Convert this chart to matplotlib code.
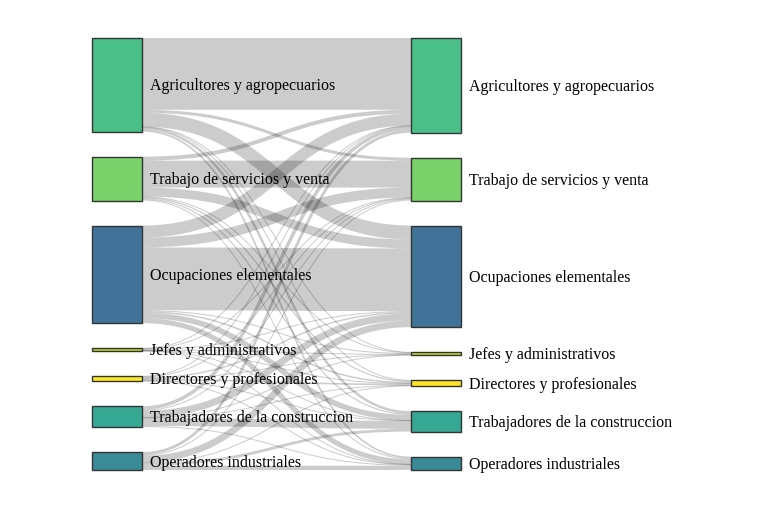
import matplotlib
matplotlib.use("Agg")
import matplotlib.pyplot as plt
from matplotlib.patches import Rectangle, PathPatch
from matplotlib.path import Path


# Data: occupation flows (left = origen, right = destino)

ocupaciones = [
    "Agricultores y agropecuarios",
    "Trabajo de servicios y venta",
    "Ocupaciones elementales",
    "Jefes y administrativos",
    "Directores y profesionales",
    "Trabajadores de la construccion",
    "Operadores industriales",
]

colores = ["#4ac088", "#7ad36a", "#417398", "#b5dc2e", "#fde725", "#35a793", "#3a8b98"]

# flujos[i][j] = flujo de ocupacion i (izquierda) a ocupacion j (derecha)
flujos = [
    [72.0, 3.0, 14.0, 0.3, 0.5, 2.5, 1.7],
    [4.0, 27.0, 9.0, 0.6, 1.2, 1.2, 1.0],
    [12.0, 10.0, 63.0, 1.0, 1.5, 5.5, 5.0],
    [0.3, 0.5, 0.9, 0.6, 0.3, 0.2, 0.2],
    [0.4, 0.6, 1.4, 0.4, 1.6, 0.3, 0.3],
    [3.5, 1.0, 7.0, 0.1, 0.4, 8.0, 1.0],
    [2.8, 0.9, 6.7, 0.0, 0.5, 2.8, 4.3],
]


# Layout (pixels)

W, H = 766, 508
top, bottom = 38, 470
pad = 25
node_w = 50
x_left, x_right = 92, 411
n = len(ocupaciones)

tot_izq = [sum(r) for r in flujos]
tot_der = [sum(flujos[i][j] for i in range(n)) for j in range(n)]
ky = (bottom - top - (n - 1) * pad) / max(sum(tot_izq), sum(tot_der))


def posiciones(totales):
    ys = []
    y = top
    for t in totales:
        ys.append((y, y + t * ky))
        y += t * ky + pad
    return ys


pos_izq = posiciones(tot_izq)
pos_der = posiciones(tot_der)

fig = plt.figure(figsize=(W / 100, H / 100), dpi=100)
ax = fig.add_axes([0, 0, 1, 1])
ax.set_xlim(0, W)
ax.set_ylim(H, 0)
ax.axis("off")

# Links
off_izq = [p[0] for p in pos_izq]
off_der = [p[0] for p in pos_der]
x0 = x_left + node_w
x1 = x_right
xm = (x0 + x1) / 2
for i in range(n):
    for j in range(n):
        v = flujos[i][j]
        if v <= 0:
            continue
        w = v * ky
        y0 = off_izq[i] + w / 2
        off_izq[i] += w
        y1 = off_der[j] + w / 2
        off_der[j] += w
        path = Path([(x0, y0), (xm, y0), (xm, y1), (x1, y1)],
                    [Path.MOVETO, Path.CURVE4, Path.CURVE4, Path.CURVE4])
        patch = PathPatch(path, facecolor="none", edgecolor="black", alpha=0.2,
                          lw=max(w, 1) * 0.72, capstyle="butt", zorder=1)
        ax.add_patch(patch)

# Nodes
for k in range(n):
    for x, (ya, yb) in ((x_left, pos_izq[k]), (x_right, pos_der[k])):
        ax.add_patch(Rectangle((x, ya), node_w, max(yb - ya, 1), facecolor=colores[k],
                               edgecolor="#333333", lw=1, zorder=2))
        ax.text(x + node_w + 8, (ya + yb) / 2 + 1.5, ocupaciones[k], fontsize=11.5,
                family="Liberation Serif", va="center", ha="left", zorder=3)

fig.savefig("out.png", dpi=100)
plt.close()
